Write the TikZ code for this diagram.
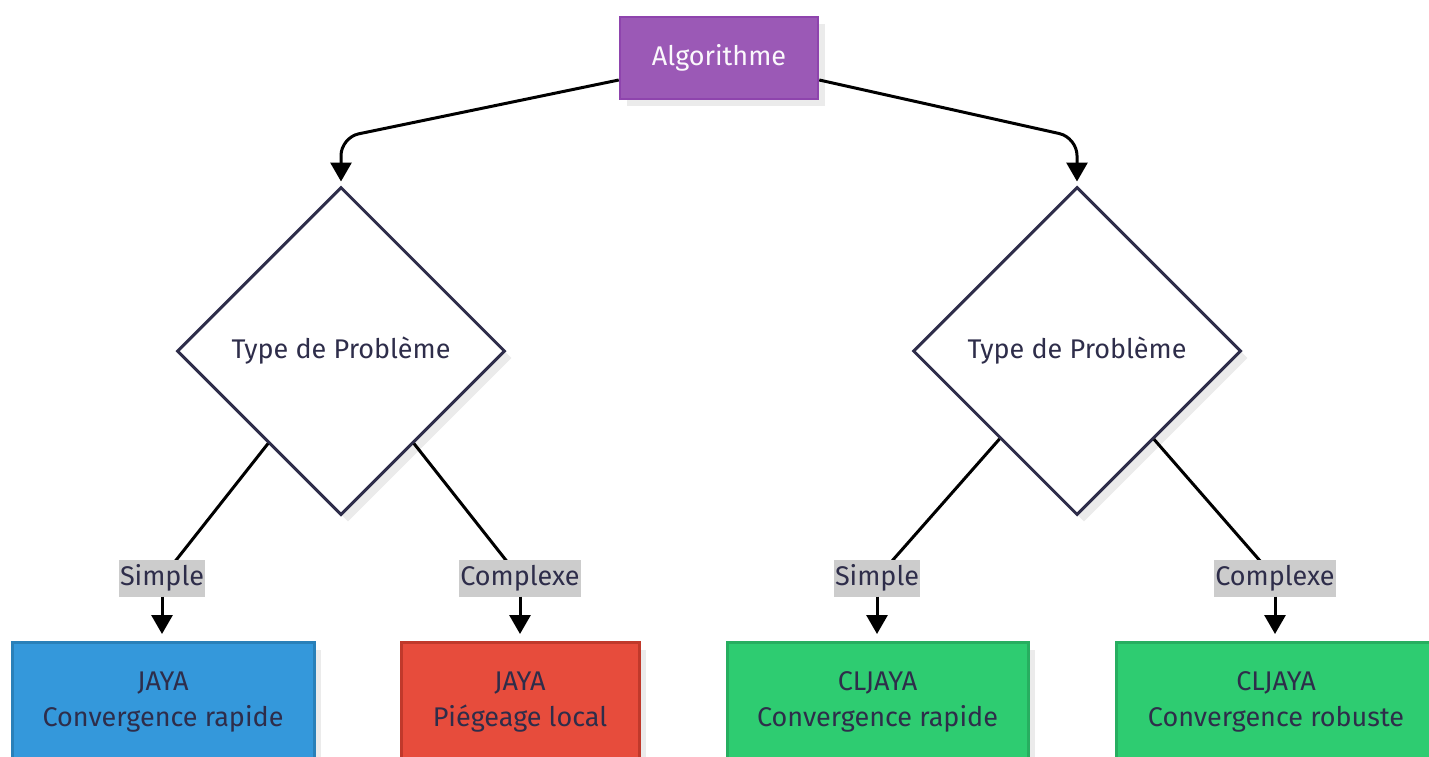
\documentclass[tikz,border=0pt]{standalone}
\usepackage{fontspec}
\setmainfont{Fira Sans}
\usetikzlibrary{shapes.geometric,arrows.meta,calc,shadows}

\definecolor{ink}{HTML}{2E2D4A}
\definecolor{purplefill}{HTML}{9B59B6}
\definecolor{purpleline}{HTML}{8E44AD}
\definecolor{bluefill}{HTML}{3498DB}
\definecolor{blueline}{HTML}{2980B9}
\definecolor{redfill}{HTML}{E74C3C}
\definecolor{redline}{HTML}{C0392B}
\definecolor{greenfill}{HTML}{2ECC71}
\definecolor{greenline}{HTML}{27AE60}
\definecolor{labelgray}{HTML}{CCCCCC}
\definecolor{shadowgray}{HTML}{EBEBEB}

\tikzset{
  txt/.style={font=\fontsize{27}{36}\selectfont, text=ink},
  softshadow/.style={drop shadow={shadow xshift=7pt, shadow yshift=-7pt, fill=shadowgray, opacity=1}},
  rootbox/.style={txt, rectangle, draw=purpleline, fill=purplefill, line width=2.5pt,
    minimum width=198pt, minimum height=82pt, text=white!96!purplefill, softshadow},
  decision/.style={txt, diamond, draw=ink, fill=white, line width=3pt, inner sep=0pt,
    minimum width=328pt, minimum height=328pt, softshadow},
  leafbox/.style={txt, rectangle, line width=3pt, align=center, anchor=north,
    minimum height=119pt, softshadow},
  edgelabel/.style={txt, rectangle, fill=labelgray, inner xsep=1pt, inner ysep=0pt,
    minimum height=37pt},
  link/.style={line width=3pt, black},
  arrowlink/.style={link, -{Triangle[length=19pt,width=21pt]}},
}

\begin{document}
\begin{tikzpicture}[x=1pt, y=-1pt]
  \clip (0,0) rectangle (1429,756);
  \fill[white] (0,0) rectangle (1429,756);

  % root and the two decisions
  \node[rootbox] (alg) at (719,58) {Algorithme};
  \node[decision] (dL) at (341,351) {Type de Problème};
  \node[decision] (dR) at (1077,351) {Type de Problème};

  % result boxes
  \node[leafbox, fill=bluefill, draw=blueline, minimum width=302pt] (jayaA) at (163,641) {JAYA\\Convergence rapide};
  \node[leafbox, fill=redfill, draw=redline, minimum width=238pt] (jayaB) at (520,641) {JAYA\\Piégeage local};
  \node[leafbox, fill=greenfill, draw=greenline, minimum width=301pt] (cljA) at (877.5,641) {CLJAYA\\Convergence rapide};
  \node[leafbox, fill=greenfill, draw=greenline, minimum width=320pt] (cljB) at (1276,641) {CLJAYA\\Convergence robuste};

  % edge label positions
  \coordinate (lA) at (162,578);
  \coordinate (lB) at (520,578);
  \coordinate (lC) at (877,578);
  \coordinate (lD) at (1275,578);

  % root to decisions
  \draw[arrowlink, rounded corners=18pt, shorten >=4pt]
    ([yshift=-22pt]alg.west) -- ($(dL.north)+(0,-48)$) -- (dL.north);
  \draw[arrowlink, rounded corners=18pt, shorten >=4pt]
    ([yshift=-22pt]alg.east) -- ($(dR.north)+(0,-48)$) -- (dR.north);

  % decisions to labels
  \draw[link] (dL) -- (lA);
  \draw[link] (dL) -- (lB);
  \draw[link] (dR) -- (lC);
  \draw[link] (dR) -- (lD);

  % labels
  \node[edgelabel] (sA) at (lA) {Simple};
  \node[edgelabel] (sB) at (lB) {Complexe};
  \node[edgelabel] (sC) at (lC) {Simple};
  \node[edgelabel] (sD) at (lD) {Complexe};

  % labels to results
  \draw[arrowlink, shorten >=7pt] (sA.south) -- (sA.south |- jayaA.north);
  \draw[arrowlink, shorten >=7pt] (sB.south) -- (sB.south |- jayaB.north);
  \draw[arrowlink, shorten >=7pt] (sC.south) -- (sC.south |- cljA.north);
  \draw[arrowlink, shorten >=7pt] (sD.south) -- (sD.south |- cljB.north);
\end{tikzpicture}
\end{document}
